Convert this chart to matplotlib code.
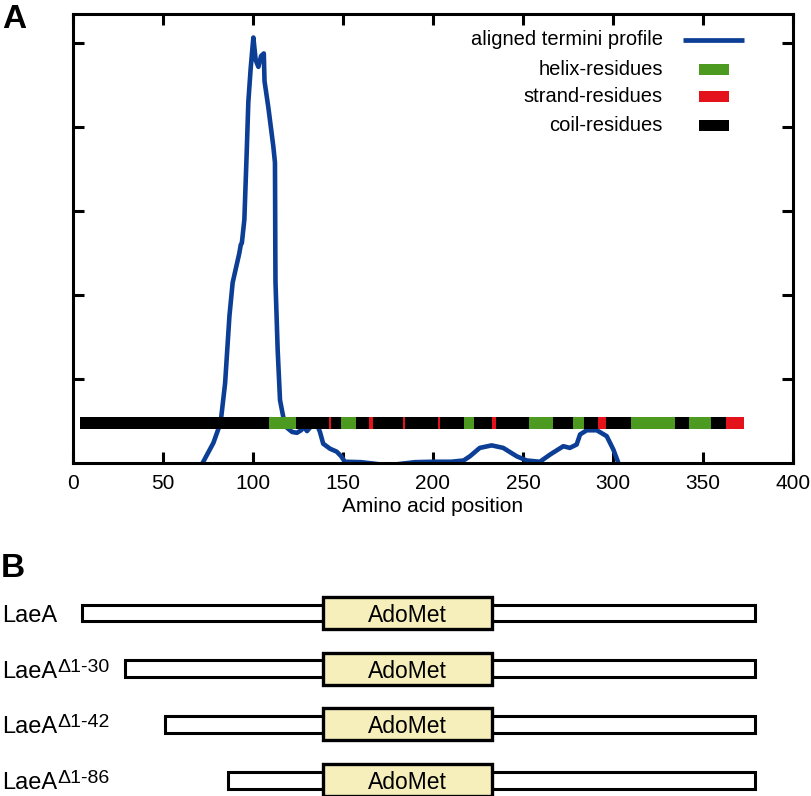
import numpy as np
import matplotlib
matplotlib.use('Agg')
import matplotlib.pyplot as plt
from matplotlib.patches import Rectangle

plt.rcParams['font.family'] = ['Liberation Sans', 'DejaVu Sans']

# ---- panel A data: aligned termini profile (arbitrary units)
profile_pos = [70, 72, 78, 82, 84.5, 86.9, 88.7, 92.4, 93.2, 93.8, 95.2, 96.5, 97.4, 98.7,
               100.2, 101.5, 103, 104.5, 106, 106.4, 108.5, 111.3, 112.2, 112.3, 112.4,
               112.5, 113.7, 115, 116.8, 118.9, 121.7, 124.4, 126.7, 128.3, 130, 132.8,
               135.5, 137.2, 139, 142.8, 146.5, 149, 151, 160, 168, 175, 182, 190, 200,
               210, 217, 220.5, 226, 232.6, 239, 246.5, 252, 259.4, 265, 272.4, 276,
               279.8, 281.7, 285.4, 291, 296.5, 300.2, 303, 304]
profile_val = [-0.05, 0.0, 0.24, 0.48, 0.95, 1.75, 2.15, 2.5, 2.6, 2.62, 2.9, 3.7, 4.3, 4.7,
               5.07, 4.8, 4.72, 4.85, 4.88, 4.55, 4.24, 3.77, 3.58, 3.1, 2.5,
               2.15, 1.35, 0.75, 0.55, 0.42, 0.37, 0.36, 0.39, 0.43, 0.38, 0.45,
               0.46, 0.37, 0.23, 0.17, 0.135, 0.08, 0.015, 0.01, -0.01, -0.03, -0.01, 0.01, 0.015,
               0.015, 0.03, 0.08, 0.18, 0.21, 0.18, 0.08, 0.03, 0.015, 0.1, 0.2, 0.18,
               0.22, 0.34, 0.39, 0.39, 0.32, 0.16, 0.0, -0.05]

# secondary structure segments: start, end, kind
ss_start = [4, 109, 124, 142.3, 143.3, 149, 157, 164.6, 166.8, 183.5, 184.5, 203, 204, 217,
            223, 233, 235, 253.5, 266.5, 278, 284, 291.5, 296, 310, 334.5, 342.5, 354.5, 363]
ss_end = ss_start[1:] + [373]
ss_kind = ['C', 'H', 'C', 'E', 'C', 'H', 'C', 'E', 'C', 'E', 'C', 'E', 'C', 'H',
           'C', 'E', 'C', 'H', 'C', 'H', 'C', 'E', 'C', 'H', 'C', 'H', 'C', 'E']

# ---- panel B data: constructs (schematic positions, same scale as panel A)
construct_names = ['LaeA', 'LaeA', 'LaeA', 'LaeA']
construct_sup = ['', '\u03941-30', '\u03941-42', '\u03941-86']
construct_start = [5, 29, 51, 86]
construct_end = [379, 379, 379, 379]
adomet_start = 139
adomet_end = 233

blue = '#0b3e94'
ss_colors = {'H': '#4c9a1f', 'E': '#e4121a', 'C': 'black'}

fig = plt.figure(figsize=(8.12, 7.96), dpi=100)

# ---------------- panel A
ax = fig.add_axes([73/812, 333/796, 720/812, 449/796])
ax.plot(profile_pos, profile_val, color=blue, lw=3.3, zorder=2,
        solid_joinstyle='round', solid_capstyle='round')

bar_y, bar_h = 0.405, 0.143
for kind in ['C', 'H', 'E']:
    segs = [(s, e - s) for s, e, k in zip(ss_start, ss_end, ss_kind) if k == kind]
    ax.broken_barh(segs, (bar_y, bar_h), facecolors=ss_colors[kind], zorder=3)

ax.set_xlim(0, 400)
ax.set_ylim(0, 5.35)
ax.set_xticks(range(0, 401, 50))
ax.set_yticks([1, 2, 3, 4, 5])
ax.set_yticklabels([])
ax.tick_params(direction='in', top=True, right=True, length=8, width=2.2,
               labelsize=15, pad=8)
for sp in ax.spines.values():
    sp.set_linewidth(2.2)
ax.set_xlabel('Amino acid position', fontsize=15, labelpad=3)

# legend, text right aligned like the original
leg_labels = ['aligned termini profile', 'helix-residues', 'strand-residues', 'coil-residues']
leg_y = [0.9426, 0.877, 0.816, 0.752]
for i, lab in enumerate(leg_labels):
    ax.text(0.8194, leg_y[i], lab, transform=ax.transAxes, ha='right', va='center',
            fontsize=14.5)
ax.plot([0.847, 0.932], [leg_y[0], leg_y[0]], color=blue, lw=3.4,
        transform=ax.transAxes, solid_capstyle='butt')
for i, kind in enumerate(['H', 'E', 'C']):
    ax.add_patch(Rectangle((0.869, leg_y[i + 1] - 0.012), 0.042, 0.024,
                           transform=ax.transAxes, color=ss_colors[kind], lw=0))

fig.text(2/812, 1 - 4/796, 'A', fontsize=24, fontweight='bold', ha='left', va='top')
fig.text(1/812, 1 - 553/796, 'B', fontsize=24, fontweight='bold', ha='left', va='top')

# ---------------- panel B
bx = fig.add_axes([0, 0, 1, 211/796])
bx.set_xlim(-40.56, 410.56)
bx.set_ylim(3.287, -0.503)
bx.axis('off')

row_h = 0.305
box_h = 0.575
for i in range(len(construct_names)):
    bx.add_patch(Rectangle((construct_start[i], i - row_h/2), construct_end[i] - construct_start[i],
                           row_h, facecolor='white', edgecolor='black', lw=2.2, zorder=2))
    bx.add_patch(Rectangle((adomet_start, i - box_h/2), adomet_end - adomet_start, box_h,
                           facecolor='#f6efbb', edgecolor='black', lw=2.4, zorder=3))
    bx.text((adomet_start + adomet_end)/2, i + 0.16, 'AdoMet', ha='center', va='baseline',
            fontsize=16.5, zorder=4)
    t = bx.text(-39.5, i + 0.16, construct_names[i], ha='left', va='baseline', fontsize=17)
    if construct_sup[i]:
        bx.annotate(construct_sup[i], xy=(1.0, 0.5), xycoords=t, xytext=(0.5, 0),
                    textcoords='offset points', ha='left', va='baseline', fontsize=14)

fig.savefig('out.png', dpi=100)
